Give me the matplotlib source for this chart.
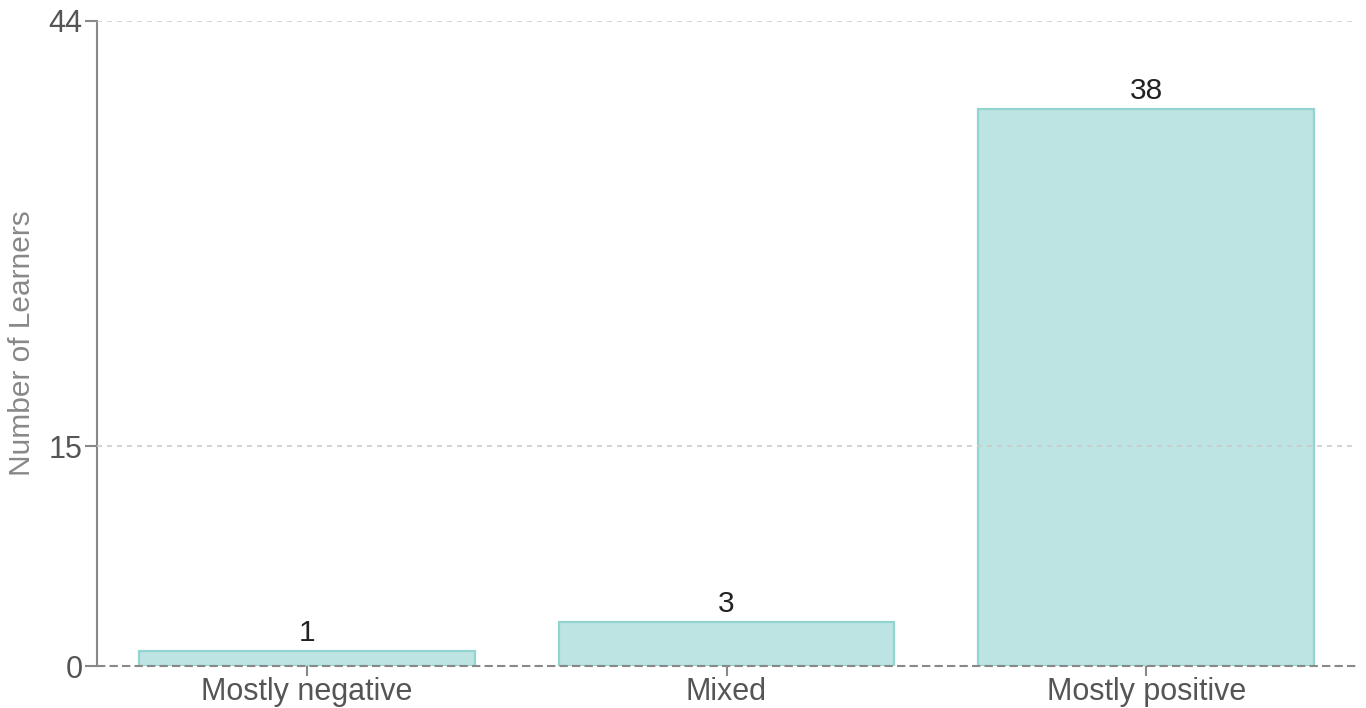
import matplotlib
matplotlib.use("Agg")
import matplotlib.pyplot as plt

categories = ["Mostly negative", "Mixed", "Mostly positive"]
values = [1, 3, 38]
yticks = [0, 15, 44]

plt.rcParams['font.family'] = ['Liberation Sans', 'DejaVu Sans']

fig = plt.figure(figsize=(13.66, 7.08), dpi=100)
ax = fig.add_axes([97/1366, 1 - 666/708, (1356-97)/1366, (666-21)/708])

x = list(range(len(categories)))
bars = ax.bar(x, values, width=0.8, color="#bee3e3", edgecolor="#92d4cf", linewidth=1.6, zorder=2)
for xi, v in zip(x, values):
    ax.text(xi, v + 0.3, str(v), ha="center", va="bottom", fontsize=21.5, color="#222222", zorder=4)

ax.set_xlim(-0.5, 2.5)
ax.set_ylim(0, 44)
ax.set_yticks(yticks)
ax.set_xticks(x)
ax.set_xticklabels(categories)

for t in [15, 44]:
    ax.axhline(t, color="#cccccc", linestyle=(0, (3, 3)), linewidth=1.2, zorder=3)
ax.axhline(0, color="#888888", linestyle=(0, (4, 2)), linewidth=1.5, zorder=3, clip_on=False)

for s in ["top", "right", "bottom"]:
    ax.spines[s].set_visible(False)
ax.spines["left"].set_color("#888888")
ax.spines["left"].set_linewidth(1.5)

ax.tick_params(axis="y", colors="#888888", labelcolor="#555555", labelsize=22, length=8.5, width=1.5, pad=2)
ax.tick_params(axis="x", colors="#888888", labelcolor="#555555", labelsize=22, length=7, width=1.5, pad=1)

ax.set_ylabel("Number of Learners", fontsize=21.5, color="#888888")
ax.yaxis.set_label_coords(-(97 - 22) / (1356 - 97), (666 - 343) / (666 - 21))
ax.yaxis.label.set_verticalalignment("center")

fig.savefig("out.png", dpi=100)
